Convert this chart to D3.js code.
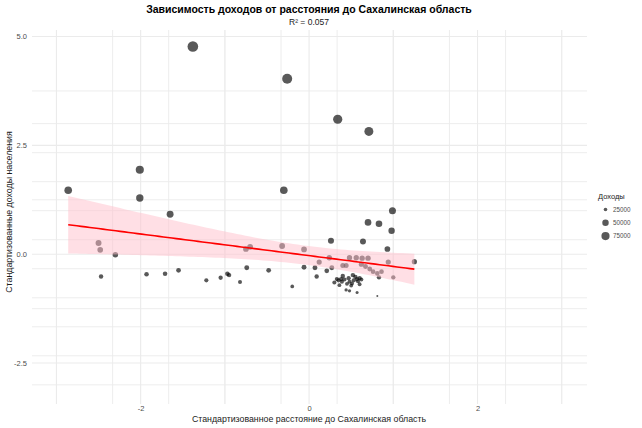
<!DOCTYPE html>
<html>
<head>
<meta charset="utf-8">
<script src="https://cdn.jsdelivr.net/npm/d3@7"></script>
<style>
    body { margin: 0; background: #fff; }
    svg { display: block; font-family: "Liberation Sans", Arial, sans-serif; }
</style>
</head>
<body>
<svg id="chart" width="642" height="428"></svg>
<script>
// ============================================================================
// DATA - standardized distance (x), standardized income (y), income (size)
// ============================================================================

const distanceZ = [
    -1.38, -0.26, 0.34, 0.71, -0.30, -2.86, -2.01, -2.01, -1.65, -2.50,
    -2.48, -2.30, -2.47, -1.93, -1.71, -1.55, -1.22, -1.05, -0.97, -0.95,
    -0.82, -0.74, -0.75, -0.70, -0.48, -0.32, -0.20, -0.06, -0.06, 0.12,
    0.07, 0.09, 0.21, 0.26, 0.27, 0.24, 0.40, 0.44, 0.48, 0.33,
    0.38, 0.39, 0.36, 0.47, 0.48, 0.52, 0.51, 0.57, 0.60, 0.60,
    0.44, 0.48, 0.57, 0.81, 0.64, 0.70, 0.83, 0.98, 0.93, 0.56,
    0.63, 0.70, 0.62, 0.67, 0.72, 0.76, 0.81, 0.86, 0.83, 0.94,
    1.00, 1.25, 0.99, 0.35, 0.42, 0.45, 0.53, 0.55, 0.40, 0.50,
    0.58, 0.30, 0.62
];

const incomeZ = [
    4.77, 4.03, 3.10, 2.82, 1.47, 1.47, 1.94, 1.29, 0.92, 0.26,
    0.10, -0.01, -0.51, -0.46, -0.45, -0.37, -0.60, -0.54, -0.45, -0.48,
    -0.64, -0.31, 0.12, 0.17, -0.37, 0.19, -0.74, 0.11, -0.30, -0.18,
    -0.31, -0.51, -0.38, 0.31, -0.31, -0.08, -0.26, -0.26, -0.08, -0.57,
    -0.57, -0.63, -0.71, -0.55, -0.63, -0.48, -0.67, -0.57, -0.55, -0.69,
    -0.82, -0.84, -0.88, -0.96, 0.29, 0.73, 0.70, 0.54, 0.12, -0.08,
    -0.09, -0.09, -0.23, -0.28, -0.34, -0.40, -0.44, -0.40, -0.53, -0.18,
    -0.53, -0.17, 1.00, -0.60, -0.58, -0.68, -0.60, -0.52, -0.50, -0.72,
    -0.62, -0.65, -0.58
];

const income = [
    89900, 80900, 69500, 66100, 49600, 49600, 55400, 47400, 42900, 34900,
    32900, 31600, 25500, 26100, 26200, 27200, 24400, 25100, 26200, 25800,
    23900, 27900, 33200, 33800, 27200, 34000, 22700, 33000, 28000, 29500,
    27900, 25500, 27100, 35500, 27900, 30700, 28500, 28500, 30700, 24700,
    24700, 24000, 23000, 25000, 24000, 25800, 23500, 24700, 25000, 23300,
    21700, 21500, 21000, 20000, 35200, 40600, 40200, 38300, 33200, 30700,
    30600, 30600, 28900, 28300, 27600, 26800, 26300, 26800, 25200, 29500,
    25200, 29600, 43900, 24400, 24600, 23400, 24400, 25400, 25600, 22900,
    24100, 23800, 24600
];

const legendBreaks = [25000, 50000, 75000];

const xMajorTicks = [-2, 0, 2];
const xMinorTicks = [-3, -1, 1, 3];
const yMajorTicks = [-2.5, 0, 2.5, 5];
const yMinorTicks = [-1.25, 1.25, 3.75];
const extraGrid = [-3, -2.333, -1.667, -1, -0.333, 0.333, 1, 1.667, 2.333, 3];

const titleText = "Зависимость доходов от расстояния до Сахалинская область";
const subtitleText = "R² = 0.057";
const xTitle = "Стандартизованное расстояние до Сахалинская область";
const yTitle = "Стандартизованные доходы населения";
const legendTitle = "Доходы";

// ============================================================================
// LAYOUT
// ============================================================================

const svg = d3.select("#chart");
const panel = { left: 32, right: 587, top: 30, bottom: 404 };

const x = d3.scaleLinear().domain([-3.29, 3.30]).range([panel.left, panel.right]);
const y = d3.scaleLinear().domain([-3.44, 5.15]).range([panel.bottom, panel.top]);

const sizeT = d3.scaleLinear().domain(d3.extent(income)).range([0, 1]);
const radius = d3.scaleSqrt().domain([0, 1]).range([1.0, 5.3]);
const r = v => radius(Math.max(0, sizeT(v)));

const points = distanceZ.map((d, i) => ({ x: d, y: incomeZ[i], income: income[i] }));

// Grid
const grid = svg.append("g").attr("class", "grid");

function vLines(values, width) {
    grid.selectAll(null).data(values).join("line")
        .attr("x1", d => x(d)).attr("x2", d => x(d))
        .attr("y1", panel.top).attr("y2", panel.bottom)
        .attr("stroke", "#ebebeb").attr("stroke-width", width);
}
function hLines(values, width) {
    grid.selectAll(null).data(values).join("line")
        .attr("y1", d => y(d)).attr("y2", d => y(d))
        .attr("x1", panel.left).attr("x2", panel.right)
        .attr("stroke", "#ebebeb").attr("stroke-width", width);
}
vLines(extraGrid, 0.9);
hLines(extraGrid, 0.9);
vLines(xMinorTicks, 0.9);
hLines(yMinorTicks, 0.9);
vLines(xMajorTicks, 1.1);
hLines(yMajorTicks, 1.1);

// Points
svg.append("g").selectAll("circle")
    .data(points)
    .join("circle")
    .attr("cx", d => x(d.x))
    .attr("cy", d => y(d.y))
    .attr("r", d => r(d.income))
    .attr("fill", "#000")
    .attr("fill-opacity", 0.65);

// Linear fit with 95% confidence band (like geom_smooth(method = "lm"))
const n = points.length;
const mx = d3.mean(points, d => d.x);
const my = d3.mean(points, d => d.y);
const sxx = d3.sum(points, d => (d.x - mx) ** 2);
const sxy = d3.sum(points, d => (d.x - mx) * (d.y - my));
const slope = sxy / sxx;
const intercept = my - slope * mx;
const sse = d3.sum(points, d => (d.y - intercept - slope * d.x) ** 2);
const s = Math.sqrt(sse / (n - 2));
const tCrit = 1.99;

const [xmin, xmax] = d3.extent(points, d => d.x);
const fit = d3.range(0, 81).map(i => {
    const xv = xmin + (xmax - xmin) * i / 80;
    const yv = intercept + slope * xv;
    const se = s * Math.sqrt(1 / n + (xv - mx) ** 2 / sxx);
    return { x: xv, y: yv, lo: yv - tCrit * se, hi: yv + tCrit * se };
});

svg.append("path")
    .datum(fit)
    .attr("fill", "pink")
    .attr("fill-opacity", 0.5)
    .attr("d", d3.area().x(d => x(d.x)).y0(d => y(d.lo)).y1(d => y(d.hi)));

svg.append("path")
    .datum(fit)
    .attr("fill", "none")
    .attr("stroke", "red")
    .attr("stroke-width", 1.6)
    .attr("d", d3.line().x(d => x(d.x)).y(d => y(d.y)));

// Axes
const xAxis = svg.append("g")
    .attr("transform", `translate(0,${panel.bottom})`)
    .call(d3.axisBottom(x).tickValues(xMajorTicks).tickSize(0).tickPadding(2)
        .tickFormat(d => String(d)));
const yAxis = svg.append("g")
    .attr("transform", `translate(${panel.left},0)`)
    .call(d3.axisLeft(y).tickValues(yMajorTicks).tickSize(0).tickPadding(5)
        .tickFormat(d => d.toFixed(1)));

[xAxis, yAxis].forEach(a => {
    a.select(".domain").remove();
    a.selectAll("text")
        .attr("fill", "#4d4d4d")
        .style("font-size", "7.5px")
        .style("font-family", "Liberation Sans, Arial, sans-serif");
});

// Titles
svg.append("text")
    .attr("x", 309).attr("y", 13)
    .attr("text-anchor", "middle")
    .style("font-size", "10.5px").style("font-weight", "bold")
    .attr("fill", "#000")
    .text(titleText);

svg.append("text")
    .attr("x", 309).attr("y", 25)
    .attr("text-anchor", "middle")
    .style("font-size", "8.5px")
    .attr("fill", "#1a1a1a")
    .text(subtitleText);

svg.append("text")
    .attr("x", 309).attr("y", 422)
    .attr("text-anchor", "middle")
    .style("font-size", "8.8px")
    .attr("fill", "#1a1a1a")
    .text(xTitle);

svg.append("text")
    .attr("transform", "translate(12,212) rotate(-90)")
    .attr("text-anchor", "middle")
    .style("font-size", "8.8px")
    .attr("fill", "#1a1a1a")
    .text(yTitle);

// Legend
const legend = svg.append("g").attr("transform", "translate(598,0)");
legend.append("text")
    .attr("x", 0).attr("y", 199)
    .style("font-size", "7.5px")
    .attr("fill", "#1a1a1a")
    .text(legendTitle);

const legendItems = legend.selectAll(".legend-item")
    .data(legendBreaks)
    .join("g")
    .attr("class", "legend-item")
    .attr("transform", (d, i) => `translate(0,${209.5 + i * 13.3})`);

legendItems.append("circle")
    .attr("cx", 7.5).attr("cy", 0)
    .attr("r", d => r(d) * 0.85)
    .attr("fill", "#000")
    .attr("fill-opacity", 0.65);

legendItems.append("text")
    .attr("x", 15).attr("y", 2.3)
    .style("font-size", "6.3px")
    .attr("fill", "#4d4d4d")
    .text(d => d);
</script>
</body>
</html>
